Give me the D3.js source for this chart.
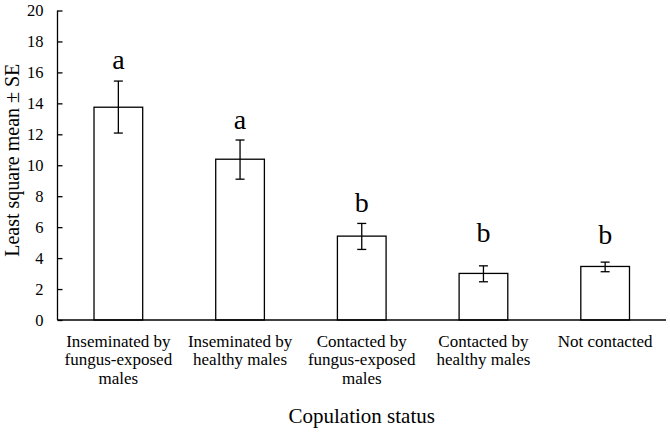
<!DOCTYPE html>
<html>
<head>
<meta charset="utf-8">
<script src="https://cdn.jsdelivr.net/npm/d3@7"></script>
<style>
  html, body { margin: 0; padding: 0; background: #fff; }
  svg { display: block; }
</style>
</head>
<body>
<svg id="chart" width="670" height="432"></svg>
<script>
// ---- data ----
const categories = [
  ["Inseminated by", "fungus-exposed", "males"],
  ["Inseminated by", "healthy males"],
  ["Contacted by", "fungus-exposed", "males"],
  ["Contacted by", "healthy males"],
  ["Not contacted"]
];
const means   = [13.75, 10.39, 5.42, 3.01, 3.46];
const seLow   = [12.08, 9.10, 4.56, 2.47, 3.12];
const seHigh  = [15.44, 11.63, 6.24, 3.50, 3.74];
const letters = ["a", "a", "b", "b", "b"];
const letterAt = [16.23, 12.37, 6.99, 5.05, 4.88];
const yTicks  = [0, 2, 4, 6, 8, 10, 12, 14, 16, 18, 20];
const yTitle  = "Least square mean \u00B1 SE";
const xTitle  = "Copulation status";

// ---- layout ----
const FONT = '"Liberation Serif"';
const svg = d3.select("#chart");
const mLeft = 57.5, mRight = 666, mTop = 10.5, mBottom = 320;

const x = d3.scaleBand()
  .domain(d3.range(categories.length))
  .range([mLeft, mRight])
  .paddingInner(0.6)
  .paddingOuter(0.3);

const y = d3.scaleLinear().domain([0, 20]).range([mBottom, mTop]);

// bars
svg.append("g").selectAll("rect")
  .data(means)
  .join("rect")
  .attr("x", (d, i) => x(i))
  .attr("y", d => y(d))
  .attr("width", x.bandwidth())
  .attr("height", d => y(0) - y(d))
  .attr("fill", "#fff")
  .attr("stroke", "#000")
  .attr("stroke-width", 1.3);

// error bars
const cap = 4.5;
const eb = svg.append("g").attr("stroke", "#000").attr("stroke-width", 1.3);
means.forEach((m, i) => {
  const cx = x(i) + x.bandwidth() / 2;
  eb.append("line").attr("x1", cx).attr("x2", cx).attr("y1", y(seLow[i])).attr("y2", y(seHigh[i]));
  eb.append("line").attr("x1", cx - cap).attr("x2", cx + cap).attr("y1", y(seLow[i])).attr("y2", y(seLow[i]));
  eb.append("line").attr("x1", cx - cap).attr("x2", cx + cap).attr("y1", y(seHigh[i])).attr("y2", y(seHigh[i]));
});

// significance letters
svg.append("g").selectAll("text")
  .data(letters)
  .join("text")
  .attr("x", (d, i) => x(i) + x.bandwidth() / 2)
  .attr("y", (d, i) => y(letterAt[i]))
  .attr("text-anchor", "middle")
  .style("font-family", FONT)
  .style("font-size", "28px")
  .attr("fill", "#000")
  .text(d => d);

// y axis
const yAxis = svg.append("g")
  .attr("transform", `translate(${mLeft},0)`)
  .call(d3.axisLeft(y).tickValues(yTicks).tickSize(-5).tickPadding(14));
yAxis.selectAll("text").style("font-family", FONT).style("font-size", "16.5px").attr("fill", "#000");
yAxis.selectAll("line, path").attr("stroke", "#000").attr("stroke-width", 1.3);
yAxis.select(".domain").attr("d", `M0,${mBottom}V${mTop}`);

// x axis line
svg.append("line")
  .attr("x1", mLeft).attr("x2", mRight)
  .attr("y1", mBottom).attr("y2", mBottom)
  .attr("stroke", "#000").attr("stroke-width", 1.3);

// category labels
const lab = svg.append("g");
categories.forEach((lines, i) => {
  const t = lab.append("text")
    .attr("text-anchor", "middle")
    .style("font-family", FONT)
    .style("font-size", "17px")
    .attr("fill", "#000")
    .attr("x", x(i) + x.bandwidth() / 2)
    .attr("y", 346.5);
  lines.forEach((s, k) => {
    t.append("tspan")
      .attr("x", x(i) + x.bandwidth() / 2)
      .attr("dy", k === 0 ? 0 : 18.8)
      .text(s);
  });
});

// titles
svg.append("text")
  .attr("x", (mLeft + mRight) / 2)
  .attr("y", 422.5)
  .attr("text-anchor", "middle")
  .style("font-family", FONT)
  .style("font-size", "21px")
  .attr("fill", "#000")
  .text(xTitle);

svg.append("text")
  .attr("transform", `translate(19,${(mTop + mBottom) / 2 - 5}) rotate(-90)`)
  .attr("text-anchor", "middle")
  .style("font-family", FONT)
  .style("font-size", "20px")
  .attr("fill", "#000")
  .text(yTitle);
</script>
</body>
</html>
